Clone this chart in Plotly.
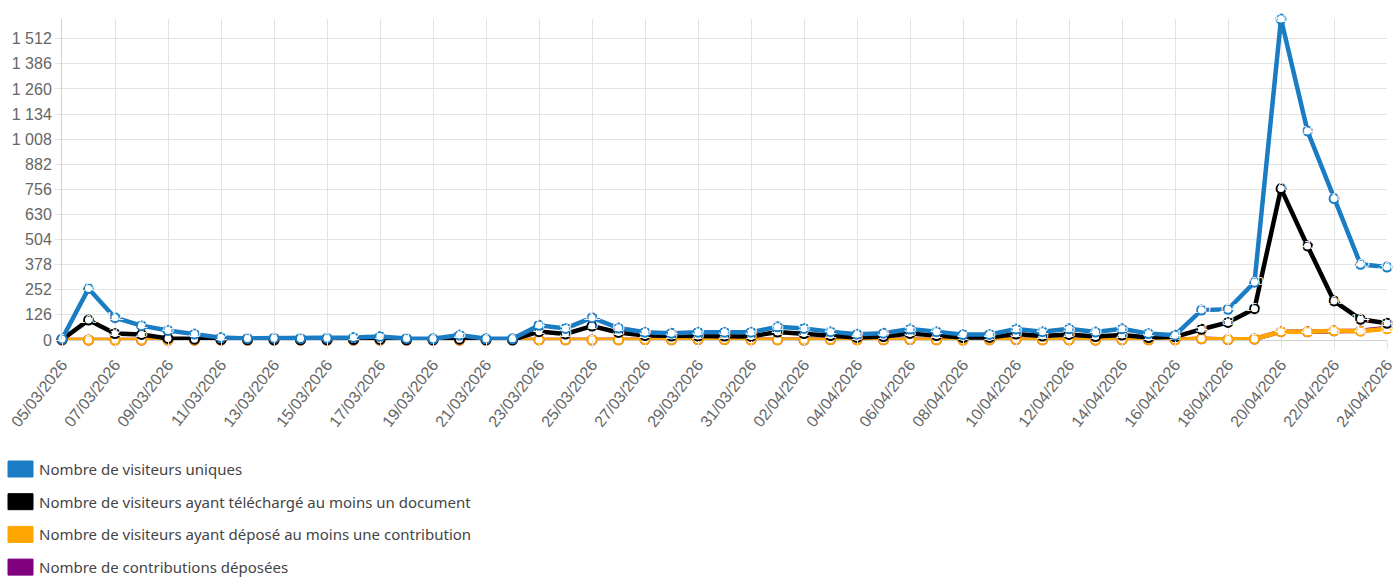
import plotly.graph_objects as go
import pandas as pd

dates = [d.strftime("%d/%m/%Y") for d in pd.date_range("2026-03-05", "2026-04-24", freq="D")]

visiteurs_uniques = [5, 258, 112, 72, 48, 30, 12, 8, 9, 8, 9, 12, 17, 8, 6, 25, 6, 6, 74, 58,
                     112, 60, 39, 34, 39, 39, 39, 66, 58, 42, 29, 34, 55, 42, 27, 28, 55, 42, 56, 40,
                     56, 32, 24, 150, 154, 290, 1611, 1049, 710, 380, 366]
visiteurs_telechargement = [2, 100, 32, 28, 8, 4, 2, 1, 1, 1, 1, 2, 3, 1, 1, 4, 1, 1, 42, 30,
                            70, 38, 22, 20, 20, 20, 18, 40, 32, 22, 13, 17, 33, 22, 12, 13, 30, 20, 28, 17,
                            25, 12, 16, 54, 88, 157, 760, 472, 196, 104, 84]
visiteurs_contribution = [0, 0, 0, 0, 0, 0, 0, 0, 0, 0, 0, 0, 0, 0, 0, 0, 0, 0, 1, 1,
                          0, 1, 2, 1, 2, 2, 1, 1, 0, 2, 1, 1, 2, 1, 0, 1, 2, 1, 1, 0,
                          1, 1, 1, 6, 2, 5, 42, 41, 46, 44, 56]
contributions_deposees = [0, 0, 0, 0, 0, 0, 0, 0, 0, 0, 0, 0, 0, 0, 0, 0, 0, 0, 1, 1,
                          0, 1, 2, 1, 2, 2, 1, 1, 0, 2, 1, 1, 2, 1, 0, 1, 2, 1, 1, 0,
                          1, 1, 1, 6, 2, 5, 42, 41, 46, 47, 60]

y_ticks = [0, 126, 252, 378, 504, 630, 756, 882, 1008, 1134, 1260, 1386, 1512]
y_ticktext = [f"{v:,}".replace(",", " ") for v in y_ticks]

series_names = [
    "Nombre de visiteurs uniques",
    "Nombre de visiteurs ayant téléchargé au moins un document",
    "Nombre de visiteurs ayant déposé au moins une contribution",
    "Nombre de contributions déposées",
]
series_values = [visiteurs_uniques, visiteurs_telechargement, visiteurs_contribution, contributions_deposees]
series_colors = ["#1A7DC4", "#000000", "#FFA500", "#800080"]

W, H = 1397, 577
ML, MR, MT, MB = 62, 10, 19, 237
PW, PH = W - ML - MR, H - MT - MB

fig = go.Figure()
# draw last series first so the first one is on top (as in reference)
for name, vals, color in reversed(list(zip(series_names, series_values, series_colors))):
    fig.add_trace(go.Scatter(
        x=dates, y=vals, name=name, mode="lines+markers+text",
        line=dict(color=color, width=4.5),
        marker=dict(size=9, color="white", line=dict(color=color, width=2)),
        text=[str(v) for v in vals], textposition="middle center",
        textfont=dict(color="white", size=11, family="Liberation Sans"),
        showlegend=False, cliponaxis=False, hoverinfo="x+y+name",
    ))

# manual legend below the chart
def px_x(px):
    return (px - ML) / PW

def px_y(py):
    return (H - MB - py) / PH

shapes = []
annotations = []
for i, (name, color) in enumerate(zip(series_names, series_colors)):
    cy = 469 + i * 32.7
    shapes.append(dict(type="rect", xref="paper", yref="paper",
                       x0=px_x(8), x1=px_x(33), y0=px_y(cy + 8), y1=px_y(cy - 8),
                       fillcolor=color, line=dict(color=color, width=1), layer="above"))
    annotations.append(dict(xref="paper", yref="paper", x=px_x(37), y=px_y(cy),
                            xanchor="left", yanchor="middle", showarrow=False, text=name,
                            font=dict(family="Noto Sans", size=15, color="#444444")))

fig.update_layout(
    width=W, height=H,
    margin=dict(l=ML, r=MR, t=MT, b=MB),
    paper_bgcolor="white", plot_bgcolor="white",
    font=dict(family="Liberation Sans", color="#666666", size=16),
    showlegend=False,
    shapes=shapes, annotations=annotations,
    xaxis=dict(
        type="category", range=[0, len(dates) - 1], automargin=False,
        tickvals=dates[::2], ticktext=dates[::2], tickangle=-52,
        showgrid=True, gridcolor="#e3e3e3", gridwidth=1,
        ticks="outside", ticklen=8, tickcolor="#e3e3e3",
        showline=False, zeroline=False,
        tickfont=dict(size=16, color="#666666"),
    ),
    yaxis=dict(
        range=[0, 1611], tickvals=y_ticks, ticktext=y_ticktext, automargin=False,
        showgrid=True, gridcolor="#e3e3e3", gridwidth=1,
        ticks="outside", ticklen=6, tickcolor="#e3e3e3",
        showline=True, linecolor="#d0d0d0", linewidth=1,
        zeroline=True, zerolinecolor="#d0d0d0", zerolinewidth=1,
        tickfont=dict(size=16, color="#666666"),
    ),
)

fig.write_html(
    "out.html",
    config={"displayModeBar": False},
    post_script="document.body.style.margin='0';document.body.style.overflow='hidden';",
)
